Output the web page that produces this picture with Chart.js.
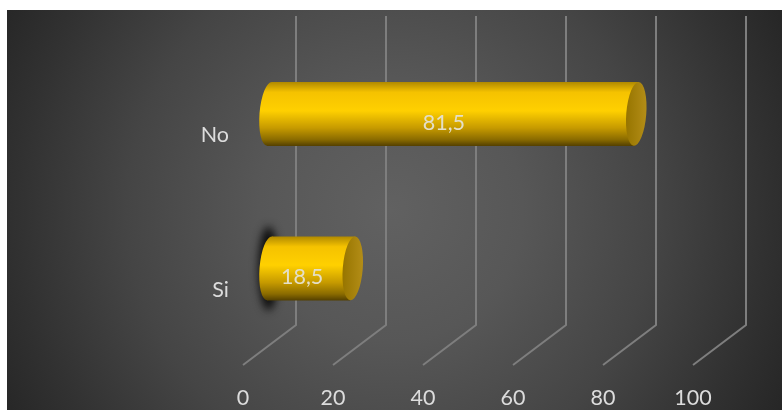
<!DOCTYPE html>
<html>
<head>
<meta charset="utf-8">
<style>
  html, body { margin: 0; padding: 0; background: #fff; }
  #wrap { width: 782px; height: 410px; position: relative; }
</style>
<script src="https://cdn.jsdelivr.net/npm/chart.js@4"></script>
</head>
<body>
<div id="wrap"><canvas id="chart"></canvas></div>
<script>
const categories = ['No', 'Si'];
const values = [81.5, 18.5];
const tickValues = [0, 20, 40, 60, 80, 100];

// fake 3D: the floor runs back this far from the front plane
const DEPTH_X = 53;
const DEPTH_Y = 40;
const TEXT = '#dcdcdc';
const FONT = 'Lato, "Open Sans", sans-serif';

const backdrop = {
    id: 'backdrop',
    beforeDraw(chart) {
        const ctx = chart.ctx;
        const g = ctx.createRadialGradient(391, 210, 0, 391, 210, 440);
        g.addColorStop(0, '#616161');
        g.addColorStop(0.3, '#575757');
        g.addColorStop(0.6, '#454545');
        g.addColorStop(0.85, '#313131');
        g.addColorStop(1, '#262626');
        ctx.save();
        ctx.fillStyle = g;
        ctx.fillRect(7, 10, 775, 400);
        ctx.restore();
    },
};

const floorGrid = {
    id: 'floorGrid',
    beforeDatasetsDraw(chart) {
        const ctx = chart.ctx;
        const { x: xScale, y: yScale } = chart.scales;
        ctx.save();
        ctx.strokeStyle = '#7e7e7e';
        ctx.lineWidth = 2;
        tickValues.forEach(v => {
            const px = xScale.getPixelForValue(v);
            ctx.beginPath();
            ctx.moveTo(px + DEPTH_X, yScale.top - DEPTH_Y);
            ctx.lineTo(px + DEPTH_X, yScale.bottom - DEPTH_Y);
            ctx.lineTo(px, yScale.bottom);
            ctx.stroke();
        });
        ctx.restore();
    },
};

function ellipsePath(ctx, cx, cy, ry) {
    ctx.beginPath();
    ctx.ellipse(cx, cy, 10, ry, 0.08, 0, Math.PI * 2);
}

const cylinders = {
    id: 'cylinders',
    afterDatasetsDraw(chart) {
        const ctx = chart.ctx;
        chart.getDatasetMeta(0).data.forEach((bar, i) => {
            const x0 = bar.base + DEPTH_X / 2;
            const x1 = bar.x + DEPTH_X / 2;
            const cy = bar.y - 19.3;
            const ry = bar.height / 2;
            ctx.save();

            // the short bar casts a soft shadow on the back wall
            if (i === 1) {
                ctx.save();
                ctx.filter = 'blur(4px)';
                ctx.fillStyle = '#0c0c0c';
                ctx.beginPath();
                ctx.ellipse(x0 - 1, cy, 10, ry + 10, 0, 0, Math.PI * 2);
                ctx.fill();
                ctx.restore();
            }

            const body = ctx.createLinearGradient(0, cy - ry, 0, cy + ry);
            body.addColorStop(0, '#b08900');
            body.addColorStop(0.16, '#f5c200');
            body.addColorStop(0.45, '#ffd000');
            body.addColorStop(0.72, '#c69a00');
            body.addColorStop(0.9, '#8a6b00');
            body.addColorStop(1, '#544000');
            ctx.fillStyle = body;
            ellipsePath(ctx, x0, cy, ry);
            ctx.fill();
            ctx.beginPath();
            ctx.moveTo(x0 + 2.5, cy - ry);
            ctx.lineTo(x1 + 2.5, cy - ry);
            ctx.lineTo(x1 - 2.5, cy + ry);
            ctx.lineTo(x0 - 2.5, cy + ry);
            ctx.closePath();
            ctx.fill();

            const cap = ctx.createLinearGradient(x1 - 10, 0, x1 + 10, 0);
            cap.addColorStop(0, '#977500');
            cap.addColorStop(1, '#b38d17');
            ctx.fillStyle = cap;
            ellipsePath(ctx, x1, cy, ry);
            ctx.fill();

            ctx.fillStyle = '#e4dfc9';
            ctx.font = '21.5px ' + FONT;
            ctx.textAlign = 'center';
            ctx.textBaseline = 'middle';
            ctx.fillText(String(values[i]).replace('.', ','), (x0 + x1) / 2 - 9, cy + 9);
            ctx.restore();
        });
    },
};

new Chart(document.getElementById('chart'), {
    type: 'bar',
    data: {
        labels: categories,
        datasets: [{
            data: values,
            backgroundColor: 'transparent',
            categoryPercentage: 1,
            barPercentage: 0.414,
        }],
    },
    options: {
        indexAxis: 'y',
        responsive: true,
        maintainAspectRatio: false,
        animation: false,
        layout: { padding: { top: 56, right: 89, left: 0, bottom: 0 } },
        plugins: { legend: { display: false }, tooltip: { enabled: false } },
        scales: {
            x: {
                min: 0,
                max: 100,
                afterFit: s => { s.height = 45; },
                afterBuildTicks: s => { s.ticks = tickValues.map(value => ({ value })); },
                grid: { display: false },
                border: { display: false },
                ticks: { color: TEXT, font: { family: FONT, size: 21.5 }, padding: 12, maxRotation: 0 },
            },
            y: {
                afterFit: s => { s.width = 243; },
                grid: { display: false },
                border: { display: false },
                ticks: { color: TEXT, font: { family: FONT, size: 21.5 }, padding: 6, labelOffset: 2 },
            },
        },
    },
    plugins: [backdrop, floorGrid, cylinders],
});
</script>
</body>
</html>
